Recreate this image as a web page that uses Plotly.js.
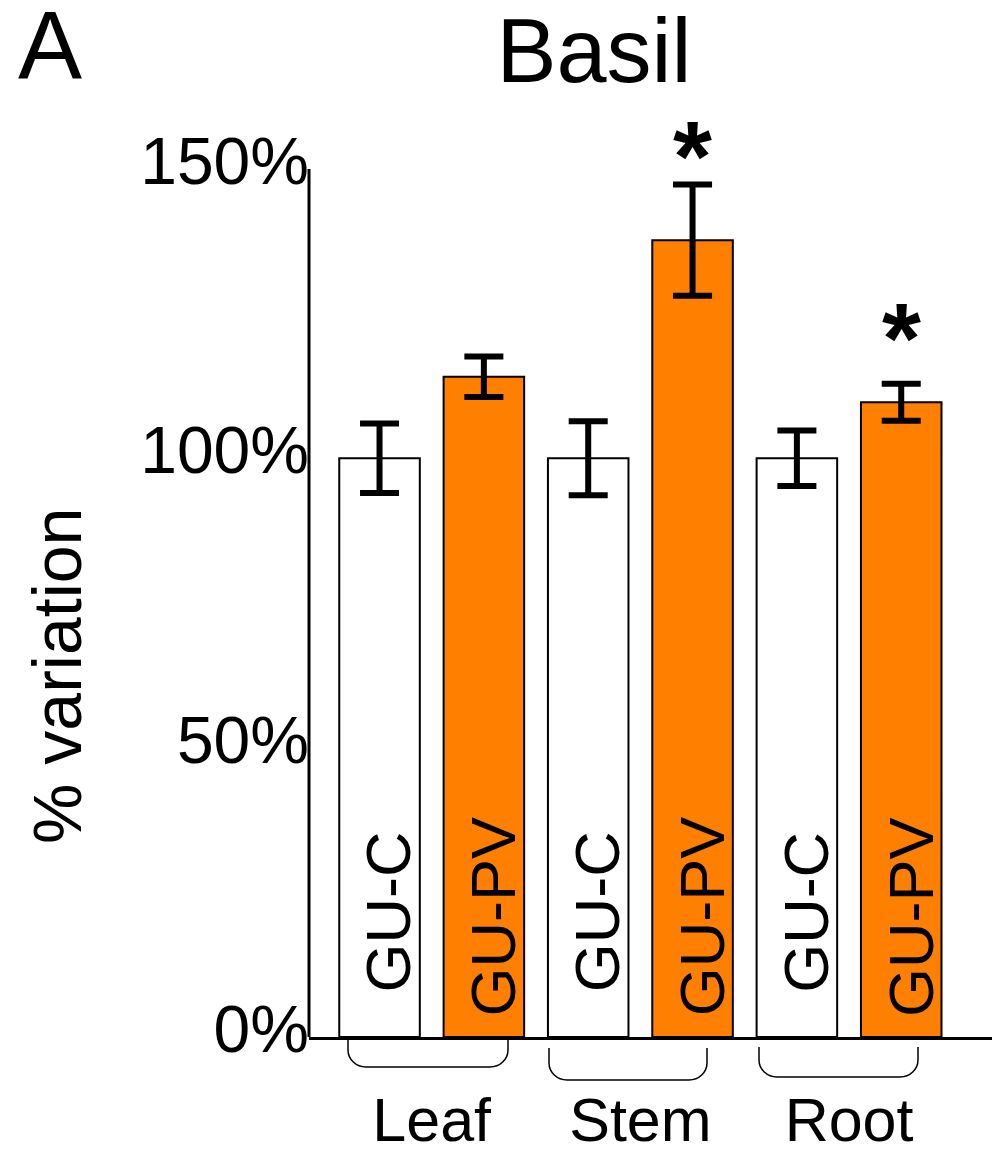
<!DOCTYPE html>
<html>
<head>
<meta charset="utf-8">
<script src="https://cdn.plot.ly/plotly-3.0.1.min.js"></script>
<style>html,body{margin:0;padding:0;background:#fff;}</style>
</head>
<body>
<div id="chart" style="width:992px;height:1151px;"></div>
<script>
// Tissue groups and the two growing conditions
const tissues = ['Leaf', 'Stem', 'Root'];
const seriesNames = ['GU-C', 'GU-PV'];

// Mean % variation and error for each condition
const controlValues = [100, 100, 100];
const controlErrors = [6.0, 6.4, 4.8];
const treatedValues = [114.1, 137.7, 109.7];
const treatedErrors = [3.5, 9.6, 3.2];
const treatedSignif = ['', '*', '*'];

// Y axis ticks
const yTickVals = [0, 50, 100, 150];
const yTickText = ['0%', '50%', '100%', '150%'];

// ---- layout geometry (pixels) ----
const W = 992, H = 1151;
const M = {l: 309, r: 0, t: 169, b: 114};
const plotW = W - M.l - M.r, plotH = H - M.t - M.b;
const FONT = 'Liberation Sans, Arial, Helvetica, sans-serif';
const ORANGE = '#FF8000';

// pixel -> paper helpers for decorations outside the plot area
const xp = px => (px - M.l) / plotW;
const yp = py => (H - M.b - py) / plotH;

const barStyle = (fill) => ({color: fill, line: {color: '#000', width: 2}});
const errStyle = (arr) => ({type: 'data', array: arr, visible: true,
  color: '#000', thickness: 6, width: 19.5});

const traces = [
  {type: 'bar', name: seriesNames[0], x: tissues, y: controlValues,
   marker: barStyle('#FFFFFF'), error_y: errStyle(controlErrors),
   hoverinfo: 'x+y'},
  {type: 'bar', name: seriesNames[1], x: tissues, y: treatedValues,
   marker: barStyle(ORANGE), error_y: errStyle(treatedErrors),
   hoverinfo: 'x+y'}
];

const annotations = [];
// panel letter
annotations.push({text: 'A', xref: 'paper', yref: 'paper', x: xp(50), y: yp(44),
  xanchor: 'center', yanchor: 'middle', showarrow: false,
  font: {family: FONT, size: 96, color: '#000'}});
// y axis label
annotations.push({text: '% variation', xref: 'paper', yref: 'paper', x: xp(57), y: yp(676),
  xanchor: 'center', yanchor: 'middle', textangle: -90, showarrow: false,
  font: {family: FONT, size: 68, color: '#000'}});

// condition names written vertically inside each bar
const halfSlot = 52.2; // offset in px from group centre to bar centre
tissues.forEach((t, i) => {
  annotations.push({text: seriesNames[0], x: t, y: 21.6, xref: 'x', yref: 'y',
    xshift: -halfSlot + 9, textangle: -90, showarrow: false,
    xanchor: 'center', yanchor: 'middle',
    font: {family: FONT, size: 63, color: '#000'}});
  annotations.push({text: seriesNames[1], x: t, y: 20.8, xref: 'x', yref: 'y',
    xshift: halfSlot + 9, textangle: -90, showarrow: false,
    xanchor: 'center', yanchor: 'middle',
    font: {family: FONT, size: 63, color: '#000'}});
});

// significance stars above the treated error bars
const starLift = [0, -29, -12];
tissues.forEach((t, i) => {
  if (!treatedSignif[i]) return;
  annotations.push({text: treatedSignif[i], x: t, y: treatedValues[i] + treatedErrors[i],
    xref: 'x', yref: 'y', xshift: halfSlot, yshift: starLift[i],
    showarrow: false, xanchor: 'center', yanchor: 'bottom',
    font: {family: FONT, size: 100, color: '#000', weight: 'bold'}});
});

// curved brackets grouping each pair of bars
const brackets = [
  {l: 348, r: 508, top: 1040, bot: 1067},
  {l: 549, r: 707, top: 1048, bot: 1080},
  {l: 759, r: 918, top: 1047, bot: 1077}
];
const shapes = brackets.map(b => {
  const rx = 18, ry = 17;
  const P = (x, y) => xp(x) + ',' + yp(y);
  const path = 'M' + P(b.l, b.top) + ' L' + P(b.l, b.bot - ry) +
    ' C' + P(b.l, b.bot - ry * 0.45) + ' ' + P(b.l + rx * 0.45, b.bot) + ' ' + P(b.l + rx, b.bot) +
    ' L' + P(b.r - rx, b.bot) +
    ' C' + P(b.r - rx * 0.45, b.bot) + ' ' + P(b.r, b.bot - ry * 0.45) + ' ' + P(b.r, b.bot - ry) +
    ' L' + P(b.r, b.top);
  return {type: 'path', xref: 'paper', yref: 'paper', path: path,
    line: {color: '#000', width: 1.5}, layer: 'above'};
});
// vertical axis line along the left edge of the plot area
shapes.push({type: 'line', xref: 'paper', yref: 'paper', x0: 0, x1: 0, y0: 0, y1: 1,
  line: {color: '#000', width: 3}, layer: 'above'});

const layout = {
  width: W, height: H,
  margin: M,
  paper_bgcolor: '#fff', plot_bgcolor: '#fff',
  showlegend: false,
  barmode: 'group', bargap: 0, bargroupgap: 0.228,
  font: {family: FONT, color: '#000'},
  title: {text: 'Basil', font: {family: FONT, size: 90, color: '#000'},
    x: 594 / W, xref: 'container', xanchor: 'center',
    y: 1 - 50 / H, yref: 'container', yanchor: 'middle'},
  xaxis: {type: 'category', categoryorder: 'array', categoryarray: tissues,
    range: [-0.588, 2.685], showgrid: false, zeroline: false,
    showline: true, linecolor: '#000', linewidth: 3, ticks: '',
    ticklabelstandoff: 28,
    tickfont: {family: FONT, size: 61, color: '#000'}, fixedrange: true},
  yaxis: {range: [0, 150], tickvals: yTickVals, ticktext: yTickText,
    anchor: 'free', position: 0, ticklabelshift: -8,
    showgrid: false, zeroline: false, showline: false,
    ticks: '', tickfont: {family: FONT, size: 66, color: '#000'}, fixedrange: true},
  annotations: annotations,
  shapes: shapes
};

Plotly.newPlot('chart', traces, layout, {displayModeBar: false, staticPlot: true});
</script>
</body>
</html>
